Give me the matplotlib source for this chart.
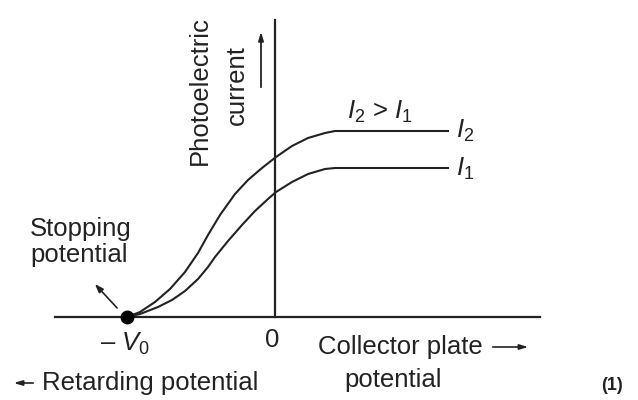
import matplotlib
matplotlib.use("Agg")
import matplotlib.pyplot as plt

plt.rcParams["mathtext.fontset"] = "custom"
plt.rcParams["mathtext.rm"] = "Liberation Sans"
plt.rcParams["mathtext.it"] = "Liberation Sans:italic"

# Data (arbitrary units: x = collector potential, y = photoelectric current)
v0 = -148
x_i2 = [-148, -135, -120, -105, -90, -77, -67, -55, -40, -27, -13, 1, 17, 33, 50, 60, 173]
y_i2 = [0, 5, 15, 28, 45, 64, 82, 102, 123, 137, 149, 160, 171, 179, 184, 186, 186]
x_i1 = [-148, -135, -117, -103, -90, -77, -67, -60, -47, -33, -20, -7, 1, 17, 33, 50, 60, 173]
y_i1 = [0, 3, 10, 17, 26, 38, 50, 60, 76, 92, 106, 118, 125, 135, 143, 148, 149, 149]

fig = plt.figure(figsize=(6.38, 4.0), dpi=100)
ax = fig.add_axes([0, 0, 1, 1])
ax.set_xlim(-275, 363)
ax.set_ylim(-83, 317)
ax.axis("off")

lc = "#222222"
fam = ["Liberation Sans", "DejaVu Sans"]
fs = 18.5

# axes
ax.plot([-220, 265], [0, 0], color=lc, lw=1.6)
ax.plot([0, 0], [0, 297], color=lc, lw=1.6)

# curves
ax.plot(x_i2, y_i2, color=lc, lw=1.5, solid_joinstyle="round")
ax.plot(x_i1, y_i1, color=lc, lw=1.5, solid_joinstyle="round")
ax.plot([v0], [0], "o", color="black", ms=9)

# labels
ax.text(-75, 226, "Photoelectric", rotation=90, ha="center", va="center",
        fontsize=fs, family=fam, color=lc)
ax.text(-38, 232, "current", rotation=90, ha="center", va="center",
        fontsize=fs, family=fam, color=lc)
ax.annotate("", xy=(-14, 288), xytext=(-14, 227),
            arrowprops=dict(arrowstyle="-|>,head_length=0.5,head_width=0.15",
                            color=lc, lw=1.3))

ax.text(105, 205, r"$I_2$ > $I_1$", ha="center", va="center",
        fontsize=fs, color=lc, family=fam)
ax.text(181, 186, r"$I_2$", ha="left", va="center", fontsize=fs, color=lc)
ax.text(181, 148, r"$I_1$", ha="left", va="center", fontsize=fs, color=lc)

ax.text(-245, 75, "Stopping\npotential", ha="left", va="center",
        multialignment="left", fontsize=fs, family=fam, color=lc,
        linespacing=1.15)
ax.annotate("", xy=(-182, 35), xytext=(-156, 7),
            arrowprops=dict(arrowstyle="-|>,head_length=0.5,head_width=0.18",
                            color=lc, lw=1.2))

ax.text(-150, -27, r"– $V_0$", ha="center", va="center",
        fontsize=fs, family=fam, color=lc)
ax.text(-3, -23, "0", ha="center", va="center", fontsize=fs, family=fam, color=lc)

ax.text(125, -30, "Collector plate", ha="center", va="center",
        fontsize=fs, family=fam, color=lc)
ax.annotate("", xy=(256, -30), xytext=(215, -30),
            arrowprops=dict(arrowstyle="-|>,head_length=0.5,head_width=0.15",
                            color=lc, lw=1.2))
ax.text(118, -63, "potential", ha="center", va="center",
        fontsize=fs, family=fam, color=lc)

ax.annotate("", xy=(-264, -66), xytext=(-239, -66),
            arrowprops=dict(arrowstyle="-|>,head_length=0.5,head_width=0.15",
                            color=lc, lw=1.2))
ax.text(-233, -66, "Retarding potential", ha="left", va="center",
        fontsize=fs, family=fam, color=lc)

ax.text(337, -68, "(1)", ha="center", va="center", fontsize=13,
        fontweight="bold", family=fam, color=lc)

fig.savefig("out.png", dpi=100, facecolor="white")
